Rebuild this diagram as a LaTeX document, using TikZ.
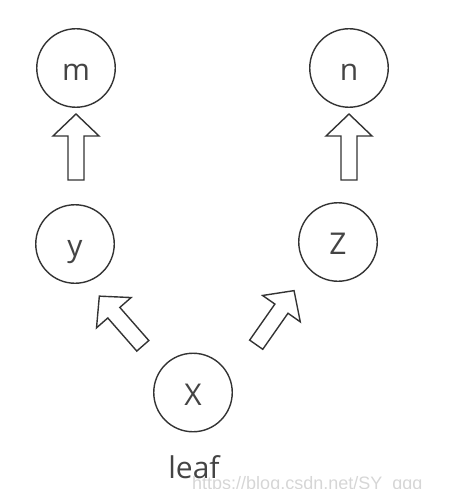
\documentclass[tikz,border=0pt]{standalone}
\usepackage{fontspec}
\setmainfont{Open Sans}
\newfontfamily\wmfont{Liberation Sans}
\definecolor{stroke}{HTML}{333333}
\definecolor{txt}{HTML}{444444}
\definecolor{wm}{HTML}{D6D6D6}
\begin{document}
\begin{tikzpicture}[x=1pt,y=-1pt,
  bubble/.style={circle,draw=stroke,line width=1.4pt,minimum size=78.5pt,inner sep=0pt,
    text=txt,font=\fontsize{30}{36}\selectfont,text height=25pt,text depth=0pt},
  arrowline/.style={draw=stroke,line width=1.4pt,line join=miter,fill=white},
  blockarr/.pic={\path[arrowline] (0,-8) -- (44,-8) -- (44,-23) -- (66,0) -- (44,23) -- (44,8) -- (0,8) -- cycle;}
]
\useasboundingbox (0,0) rectangle (474,489);
\clip (0,0) rectangle (474,489);
\node[bubble] (m) at (76,68) {m};
\node[bubble] (n) at (349,68) {n};
\node[bubble] (y) at (75,244) {y};
\node[bubble] (z) at (338,242) {Z};
\node[bubble] (x) at (193,392.5) {X};
\node[text=txt,font=\fontsize{30}{36}\selectfont,anchor=base,inner sep=0pt] (leaf) at (194,478) {leaf};
\coordinate (ym) at (76,180);
\coordinate (zn) at (349,180);
\coordinate (xy) at (142.8,345.8);
\coordinate (xz) at (256.2,344.7);
\pic[rotate=90] (a1) at (ym) {blockarr};
\pic[rotate=90] (a2) at (zn) {blockarr};
\pic[rotate=131.2] (a3) at (xy) {blockarr};
\pic[rotate=55] (a4) at (xz) {blockarr};
\node[text=wm,font=\wmfont\fontsize{18}{20}\selectfont,anchor=base west,inner sep=0pt] (wmk) at (192,489.5) {https://blog.csdn.net/SY\_qqq};
\end{tikzpicture}
\end{document}
